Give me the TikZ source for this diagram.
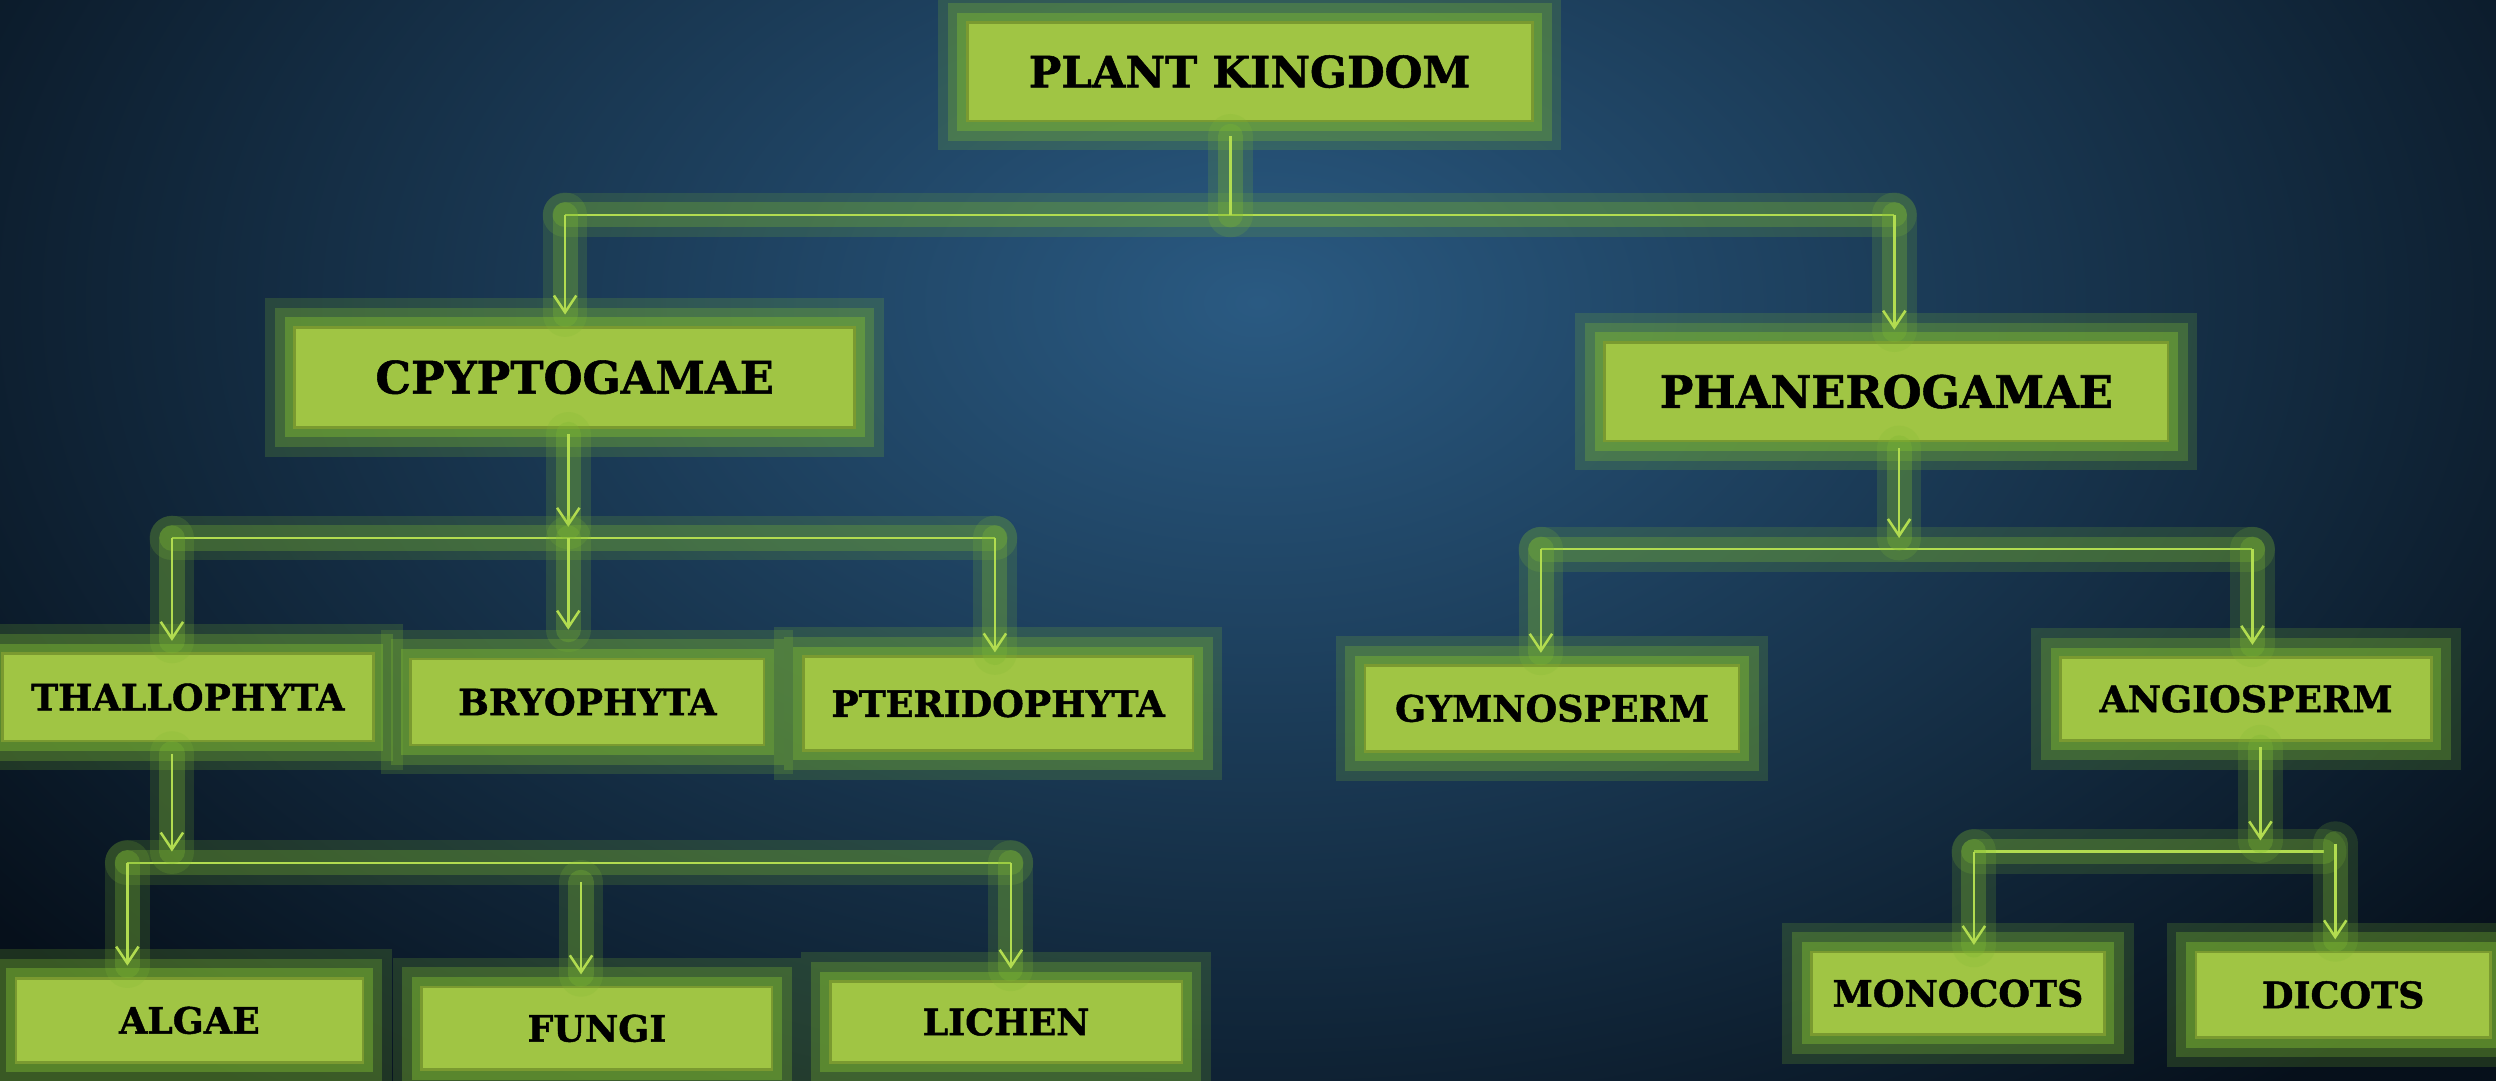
\documentclass[tikz,border=0pt]{standalone}
\usepackage{fontspec}
\setmainfont{DejaVu Serif}[BoldFeatures={FakeBold=1.2}]
\usetikzlibrary{positioning, calc, arrows.meta}
\definecolor{BoxFill}{HTML}{A0C544}
\definecolor{BoxEdge}{HTML}{7A9A30}
\definecolor{GlowGreen}{HTML}{7DB832}
\definecolor{LinkGreen}{HTML}{B2DC50}
\definecolor{NightBlue}{HTML}{06101B}
\definecolor{SteelBlue}{HTML}{2A5A82}

\tikzset{
  box/.style={draw=BoxEdge, fill=BoxFill, line width=1pt, text=black, inner sep=0pt,
    font=\bfseries\fontsize{13}{15}\selectfont,
    preaction={draw=GlowGreen, line width=21pt, opacity=0.2, rounded corners=10pt},
    preaction={draw=GlowGreen, line width=14pt, opacity=0.3, rounded corners=6pt},
    preaction={draw=GlowGreen, line width=7pt, opacity=0.45, rounded corners=3pt}},
  bigbox/.style={box, font=\bfseries\fontsize{16}{19}\selectfont},
  link/.style={draw=LinkGreen, line width=0.9pt,
    preaction={draw=GlowGreen, line width=16pt, opacity=0.18, line cap=round, arrows=-},
    preaction={draw=GlowGreen, line width=9pt, opacity=0.3, line cap=round, arrows=-}},
  arrow/.style={link, -{Straight Barb[length=6pt, width=8pt]}, shorten >=4pt}
}

\begin{document}
\begin{tikzpicture}[x=0.02cm, y=-0.02cm]
  % Background
  \useasboundingbox (0,0) rectangle (1568,679);
  \fill[NightBlue] (0,0) rectangle (1568,679);
  \begin{scope}
    \clip (0,0) rectangle (1568,679);
    \shade[inner color=SteelBlue, outer color=NightBlue] (790,190) ellipse (1000 and 640);
  \end{scope}

  % Junctions
  \coordinate (kjoin) at (773,135);
  \coordinate (kleft) at (355,135);
  \coordinate (kright) at (1190,135);
  \coordinate (cjoin) at (357,338);
  \coordinate (cleft) at (108,338);
  \coordinate (cright) at (625,338);
  \coordinate (tjoin) at (108,542);
  \coordinate (tleft) at (80,542);
  \coordinate (tmid) at (365,542);
  \coordinate (tright) at (635,542);
  \coordinate (pjoin) at (1193,345);
  \coordinate (pleft) at (968,345);
  \coordinate (pright) at (1415,345);
  \coordinate (ajoin) at (1420,535);
  \coordinate (aleft) at (1240,535);
  \coordinate (aright) at (1460,535);
  \coordinate (adrop) at (1467,530);

  % Links
  \draw[link] (kleft) -- (kright);
  \draw[link] (cleft) -- (cright);
  \draw[link] (tleft) -- (tright);
  \draw[link] (pleft) -- (pright);
  \draw[link] (aleft) -- (aright);

  % Boxes
  \node[bigbox, font=\bfseries\fontsize{15.5}{18}\selectfont, minimum width=7.1cm, minimum height=1.24cm] (kingdom) at (785,45) {PLANT KINGDOM};
  \node[bigbox, minimum width=7.04cm, minimum height=1.26cm] (crypto) at (361,237) {CPYPTOGAMAE};
  \node[bigbox, minimum width=7.08cm, minimum height=1.24cm] (phanero) at (1185,246) {PHANEROGAMAE};
  \node[box, minimum width=4.66cm, minimum height=1.1cm] (thallo) at (118,438) {THALLOPHYTA};
  \node[box, minimum width=4.44cm, minimum height=1.08cm] (bryo) at (369,441) {BRYOPHYTA};
  \node[box, minimum width=4.9cm, minimum height=1.18cm] (pterido) at (627,442) {PTERIDOPHYTA};
  \node[box, minimum width=4.7cm, minimum height=1.08cm] (gymno) at (975,445) {GYMNOSPERM};
  \node[box, minimum width=4.66cm, minimum height=1.04cm] (angio) at (1411,439) {ANGIOSPERM};
  \node[box, minimum width=4.36cm, minimum height=1.06cm] (algae) at (119,641) {ALGAE};
  \node[box, minimum width=4.4cm, minimum height=1.04cm] (fungi) at (375,646) {FUNGI};
  \node[box, minimum width=4.42cm, minimum height=1.02cm] (lichen) at (632,642) {LICHEN};
  \node[box, minimum width=3.68cm, minimum height=1.04cm] (mono) at (1230,624) {MONOCOTS};
  \node[box, minimum width=3.7cm, minimum height=1.08cm] (dicot) at (1472,625) {DICOTS};

  % Stems
  \draw[link, shorten <=5pt] (kingdom.south -| kjoin) -- (kjoin);
  \draw[arrow, shorten <=2pt] (crypto.south -| cjoin) -- (cjoin);
  \draw[arrow, shorten <=4pt] (thallo.south -| tjoin) -- (tjoin);
  \draw[arrow, shorten <=2pt] (phanero.south -| pjoin) -- (pjoin);
  \draw[arrow, shorten <=2pt] (angio.south -| ajoin) -- (ajoin);

  % Drops
  \draw[arrow] (kleft) -- (kleft |- crypto.north);
  \draw[arrow] (kright) -- (kright |- phanero.north);
  \draw[arrow] (cleft) -- (cleft |- thallo.north);
  \draw[arrow, shorten >=10pt] (cjoin) -- (cjoin |- bryo.north);
  \draw[arrow, shorten >=1pt] (cright) -- (cright |- pterido.north);
  \draw[arrow] (tleft) -- (tleft |- algae.north);
  \draw[arrow, shorten <=7pt] (tmid) -- (tmid |- fungi.north);
  \draw[arrow] (tright) -- (tright |- lichen.north);
  \draw[arrow] (pleft) -- (pleft |- gymno.north);
  \draw[arrow] (pright) -- (pright |- angio.north);
  \draw[arrow, shorten >=2pt] (aleft) -- (aleft |- mono.north);
  \draw[arrow] (adrop) -- (adrop |- dicot.north);
\end{tikzpicture}
\end{document}
